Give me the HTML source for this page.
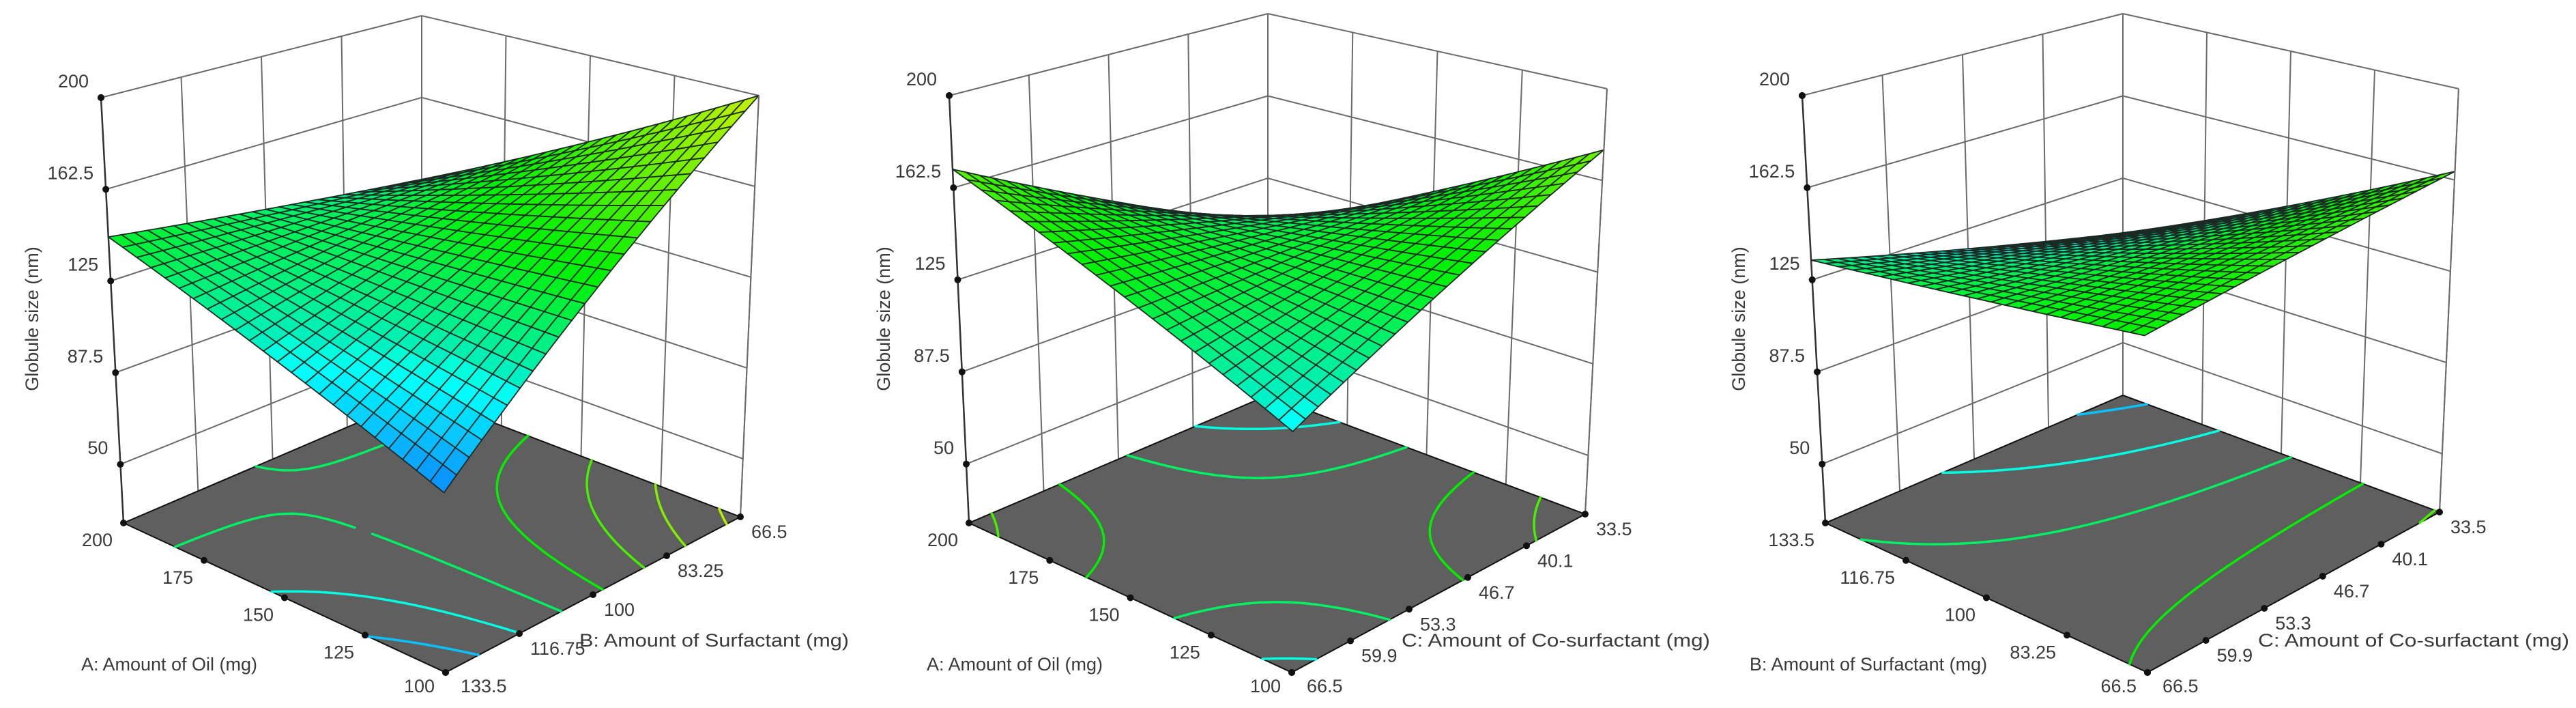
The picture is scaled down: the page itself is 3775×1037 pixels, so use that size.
<!DOCTYPE html>
<html><head><meta charset="utf-8"><title>Response surfaces - Globule size</title>
<style>
html,body{margin:0;padding:0;background:#fff;}
svg{display:block;}
text{font-family:"Liberation Sans",sans-serif;fill:#3a3a3a;}
</style></head>
<body>
<svg id="chart" xmlns="http://www.w3.org/2000/svg" width="3775" height="1037" viewBox="0 0 3775 1037"></svg>
<script>
// ---- data (corner responses) order: [L, F, B, R]
const zTicks = [50, 87.5, 125, 162.5, 200];
const zTickLabels = ["50", "87.5", "125", "162.5", "200"];
const surf1Corners = [143, 93, 125, 200];
const surf2Corners = [170, 115, 104, 175];
const surf3Corners = [133, 151, 100, 166];
const p1LeftTicks = ["200", "175", "150", "125", "100"];
const p1RightTicks = ["133.5", "116.75", "100", "83.25", "66.5"];
const p2LeftTicks = ["200", "175", "150", "125", "100"];
const p2RightTicks = ["66.5", "59.9", "53.3", "46.7", "40.1", "33.5"];
const p3LeftTicks = ["133.5", "116.75", "100", "83.25", "66.5"];
const p3RightTicks = ["66.5", "59.9", "53.3", "46.7", "40.1", "33.5"];
const contourLevels = [105, 120, 135, 150, 165, 180, 195];

const NS = "http://www.w3.org/2000/svg";
const svg = document.getElementById("chart");
const Z0 = 26, ZTOP = 200;

const panels = [
  {id:"p1", corners:surf1Corners, left:p1LeftTicks, right:p1RightTicks,
   fL:[181,766], fF:[653,985], fB:[618,579], fR:[1085,757],
   tL:[148,143], tB:[618,23], tR:[1112,140],
   leftTitle:"A: Amount of Oil (mg)", leftTitleX:248,
   rightTitle:"B: Amount of Surfactant (mg)", rightTitleX:849, rightTitleW:395, ytX:49},
  {id:"p2", corners:surf2Corners, left:p2LeftTicks, right:p2RightTicks,
   fL:[1420,766], fF:[1893,985], fB:[1858,579], fR:[2323,753],
   tL:[1391,140], tB:[1858,20], tR:[2355,130],
   leftTitle:"A: Amount of Oil (mg)", leftTitleX:1487,
   rightTitle:"C: Amount of Co-surfactant (mg)", rightTitleX:2054, rightTitleW:452, ytX:1297},
  {id:"p3", corners:surf3Corners, left:p3LeftTicks, right:p3RightTicks,
   fL:[2675,766], fF:[3147,985], fB:[3111,579], fR:[3575,750],
   tL:[2641,140], tB:[3111,20], tR:[3603,130],
   leftTitle:"B: Amount of Surfactant (mg)", leftTitleX:2738,
   rightTitle:"C: Amount of Co-surfactant (mg)", rightTitleX:3309, rightTitleW:456, ytX:2550}
];

function hueFor(z){
  const zs=[90,103,115,130,145,170,200], hs=[213,198,182,155,125,97,70];
  if(z<=zs[0]) return hs[0];
  for(let i=1;i<zs.length;i++){ if(z<=zs[i]){const t=(z-zs[i-1])/(zs[i]-zs[i-1]);return hs[i-1]+t*(hs[i]-hs[i-1]);} }
  return hs[hs.length-1];
}
function colorFor(z){ const h=hueFor(z); const l = h>190?52:(h>170?50:47); return "hsl("+h.toFixed(1)+",100%,"+l+"%)"; }

function mk(tag, parent){ const e=document.createElementNS(NS,tag); parent.appendChild(e); return e; }

panels.forEach(function(P){
  const g = mk("g", svg);
  
  
  const span = ZTOP - Z0;
  const vL=[(P.tL[0]-P.fL[0])/span,(P.tL[1]-P.fL[1])/span];
  const vB=[(P.tB[0]-P.fB[0])/span,(P.tB[1]-P.fB[1])/span];
  const vR=[(P.tR[0]-P.fR[0])/span,(P.tR[1]-P.fR[1])/span];
  const vF=[vL[0]+vR[0]-vB[0], vL[1]+vR[1]-vB[1]];
  function bil(a,f,b,r,u,v){ return a*(1-u)*(1-v)+f*u*(1-v)+b*(1-u)*v+r*u*v; }
  function proj(u,v,z){
    const fx=bil(P.fL[0],P.fF[0],P.fB[0],P.fR[0],u,v), fy=bil(P.fL[1],P.fF[1],P.fB[1],P.fR[1],u,v);
    const dx=bil(vL[0],vF[0],vB[0],vR[0],u,v), dy=bil(vL[1],vF[1],vB[1],vR[1],u,v);
    const h=z-Z0; return [fx+dx*h, fy+dy*h];
  }
  const c=P.corners;
  function zAt(u,v){ return bil(c[0],c[1],c[2],c[3],u,v); }
  function line(p,q,stroke,w,name){
    const e=mk("line",g);
    e.setAttribute("x1",p[0].toFixed(1));e.setAttribute("y1",p[1].toFixed(1));
    e.setAttribute("x2",q[0].toFixed(1));e.setAttribute("y2",q[1].toFixed(1));
    e.setAttribute("stroke",stroke);e.setAttribute("stroke-width",w);
    
    
    return e;
  }
  const wc="#6a6a6a";
  for(let k=0;k<=4;k++){
    const v=k/4; line(proj(0,v,Z0),proj(0,v,ZTOP),wc,2,'left-wall-vertical-gridline');
    const u=k/4; line(proj(u,1,Z0),proj(u,1,ZTOP),wc,2,'right-wall-vertical-gridline');
  }
  zTicks.forEach(function(zt){
    line(proj(0,0,zt),proj(0,1,zt),wc,2,'left-wall-z-gridline');
    line(proj(0,1,zt),proj(1,1,zt),wc,2,'right-wall-z-gridline');
  });
  line(proj(0,0,Z0),proj(0,0,ZTOP),"#333",2.5,'z-axis-line');
  const fl=mk("polygon",g);
  fl.setAttribute("points",[proj(0,0,Z0),proj(1,0,Z0),proj(1,1,Z0),proj(0,1,Z0)].map(p=>p[0].toFixed(1)+","+p[1].toFixed(1)).join(" "));
  fl.setAttribute("fill","#5f5f5f");fl.setAttribute("stroke","#111");fl.setAttribute("stroke-width","2");
  
  
  const N=40;
  contourLevels.forEach(function(lev){
    let d="";
    for(let i=0;i<N;i++)for(let j=0;j<N;j++){
      const u0=i/N,u1=(i+1)/N,v0=j/N,v1=(j+1)/N;
      const pts=[[u0,v0],[u1,v0],[u1,v1],[u0,v1]];
      const zs=pts.map(p=>zAt(p[0],p[1]));
      const cr=[];
      for(let e=0;e<4;e++){
        const a=zs[e],b=zs[(e+1)%4];
        if((a-lev)*(b-lev)<0){const t=(lev-a)/(b-a);const pa=pts[e],pb=pts[(e+1)%4];cr.push([pa[0]+t*(pb[0]-pa[0]),pa[1]+t*(pb[1]-pa[1])]);}
      }
      for(let k=0;k+1<cr.length;k+=2){
        const A=proj(cr[k][0],cr[k][1],Z0),B=proj(cr[k+1][0],cr[k+1][1],Z0);
        d+="M"+A[0].toFixed(1)+" "+A[1].toFixed(1)+"L"+B[0].toFixed(1)+" "+B[1].toFixed(1);
      }
    }
    if(d){
      const pth=mk("path",g);
      pth.setAttribute("d",d);pth.setAttribute("stroke",colorFor(lev));pth.setAttribute("stroke-width","3.5");pth.setAttribute("fill","none");pth.setAttribute("stroke-linecap","round");
      
      
    }
  });
  const M=24, quads=[];
  for(let i=0;i<M;i++)for(let j=0;j<M;j++) quads.push([i,j]);
  quads.sort((a,b)=>((b[1]-b[0])-(a[1]-a[0])));
  const sg=mk("g",g);
  
  
  quads.forEach(function(q){
    const u0=q[0]/M,u1=(q[0]+1)/M,v0=q[1]/M,v1=(q[1]+1)/M;
    const ps=[proj(u0,v0,zAt(u0,v0)),proj(u1,v0,zAt(u1,v0)),proj(u1,v1,zAt(u1,v1)),proj(u0,v1,zAt(u0,v1))];
    const zm=zAt((u0+u1)/2,(v0+v1)/2);
    const pg=mk("polygon",sg);
    pg.setAttribute("points",ps.map(p=>p[0].toFixed(1)+","+p[1].toFixed(1)).join(" "));
    pg.setAttribute("fill",colorFor(zm));pg.setAttribute("stroke","#1b2a22");pg.setAttribute("stroke-width","1.8");pg.setAttribute("stroke-linejoin","round");
    
    
  });
  line(proj(1,1,Z0),proj(1,1,ZTOP),wc,2,'right-edge-line');
  function dot(p,name){
    const e=mk("circle",g);
    e.setAttribute("cx",p[0].toFixed(1));e.setAttribute("cy",p[1].toFixed(1));e.setAttribute("r","5");e.setAttribute("fill","#111");
    
    
  }
  function txt(x,y,s,anchor,name,size){
    const t=mk("text",g);
    t.setAttribute("x",x.toFixed(1));t.setAttribute("y",y.toFixed(1));t.setAttribute("text-anchor",anchor);
    t.setAttribute("font-size",size||27);t.setAttribute("dominant-baseline","middle");
    t.textContent=s;
    
    
    return t;
  }
  zTicks.forEach(function(zt,i){
    const p=proj(0,0,zt); dot(p,'z-tick-mark');
    txt(p[0]-18,p[1]-22,zTickLabels[i],"end",'z-tick-label');
  });
  dot(proj(0,0,ZTOP),'z-tick-mark');
  P.left.forEach(function(s,i){
    const u=i/(P.left.length-1); const p=proj(u,0,Z0); dot(p,'left-axis-tick-mark');
    const last=(i===P.left.length-1);
    txt(p[0]-16,p[1]+(last?22:27),s,"end",'left-axis-tick-label');
  });
  P.right.forEach(function(s,i){
    const v=i/(P.right.length-1); const p=proj(1,v,Z0); dot(p,'right-axis-tick-mark');
    const first=(i===0);
    txt(p[0]+(first?22:16),p[1]+(first?22:24),s,"start",'right-axis-tick-label');
  });
  txt(P.leftTitleX,975,P.leftTitle,"middle",'left-axis-title',27);
  const rt=txt(P.rightTitleX,940,P.rightTitle,"start",'right-axis-title',27);
  rt.setAttribute("textLength",P.rightTitleW);rt.setAttribute("lengthAdjust","spacingAndGlyphs");
  const yt=txt(P.ytX,467,"Globule size (nm)","middle",'z-axis-title',27);
  yt.setAttribute("transform","rotate(-90 "+P.ytX+" 467)");
});
</script>
</body></html>
